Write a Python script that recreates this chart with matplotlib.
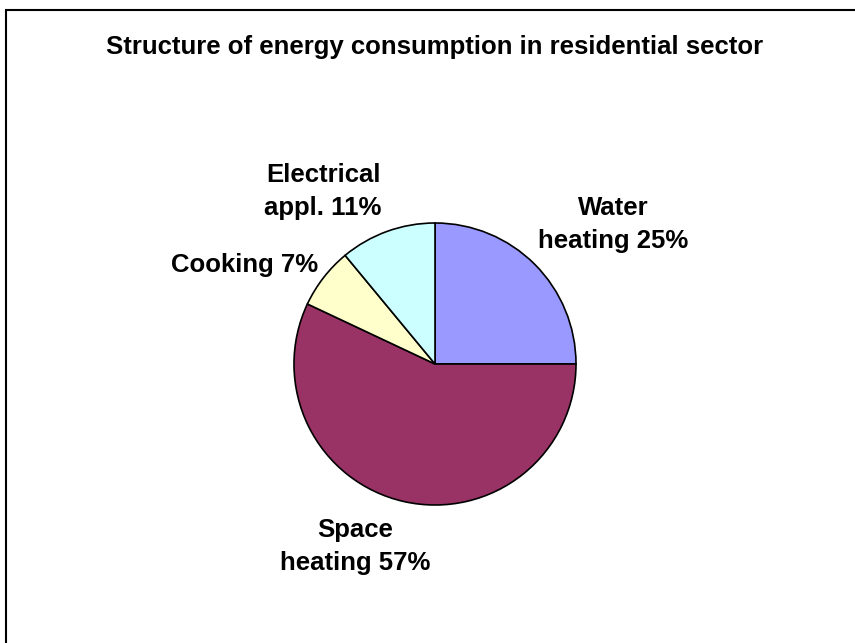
#Residential energy consumption pie chart
import matplotlib
matplotlib.use("Agg")
import matplotlib.pyplot as plt
from matplotlib.patches import Rectangle

#Chart data
categories = ["Water\nheating", "Space\nheating", "Cooking", "Electrical\nappl."]
shares = [25, 57, 7, 11]
colours = ["#9999FF", "#993366", "#FFFFCC", "#CCFFFF"]

#Label positions (pie radius = 1, baseline of last line)
label_pos = [(1.262, 0.823), (-0.567, -1.461), (-1.348, 0.652), (-0.794, 1.057)]

plt.rcParams['font.family'] = ['Liberation Sans', 'DejaVu Sans']
plt.rcParams['font.weight'] = 'bold'

fig = plt.figure(figsize=(8.55, 6.43), dpi=100)

#Pie axes: centre at (435, 364) px, radius 141 px
cx, cy, r = 435, 364, 141
ax = fig.add_axes([(cx - r) / 855, 1 - (cy + r) / 643, 2 * r / 855, 2 * r / 643])
ax.pie(shares, colors=colours, startangle=90, counterclock=False, radius=1,
       wedgeprops={"edgecolor": "black", "linewidth": 1.2})
ax.set_xlim(-1, 1)
ax.set_ylim(-1, 1)
ax.set_aspect("equal")
ax.axis("off")

for cat, val, (x, y) in zip(categories, shares, label_pos):
    ax.text(x, y, "%s %d%%" % (cat, val), ha="center", va="baseline",
            fontsize=18.5, fontweight="bold", linespacing=1.46, clip_on=False)

#Title
fig.text(cx / 855, 1 - 54 / 643, "Structure of energy consumption in residential sector",
         ha="center", va="baseline", fontsize=18.5, fontweight="bold")

#Chart frame
fig.patches.append(Rectangle((6 / 855, -0.05), 1.1, 1.05 - 10 / 643, transform=fig.transFigure,
                             fill=False, edgecolor="black", linewidth=1.5))

fig.savefig("out.png", dpi=100, facecolor="white")
